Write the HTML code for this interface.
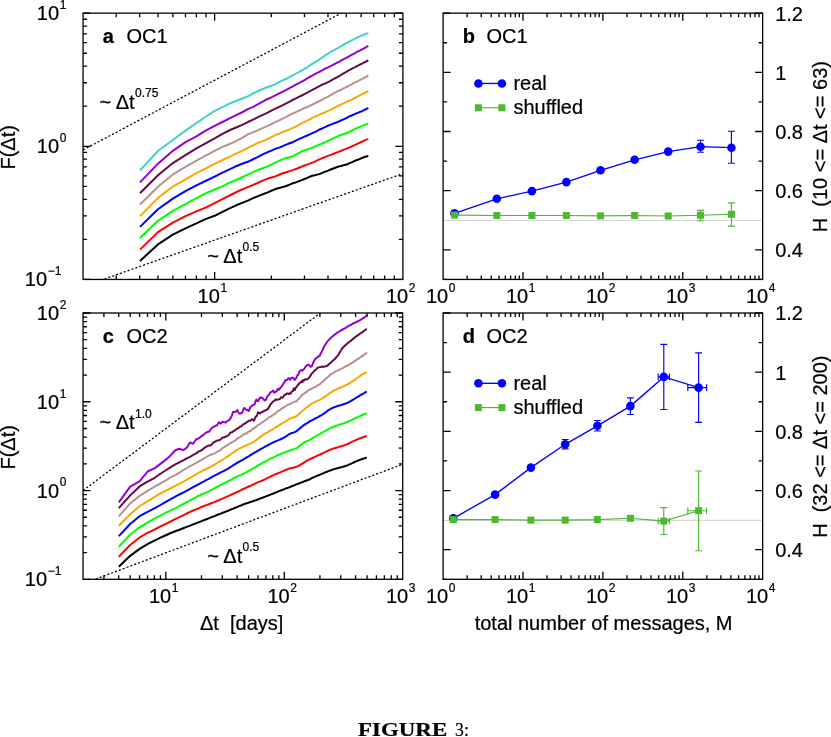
<!DOCTYPE html>
<html><head><meta charset="utf-8"><title>Figure 3</title>
<style>html,body{margin:0;padding:0;background:#fff}svg{display:block;will-change:transform}text{font-family:"Liberation Sans",sans-serif;white-space:pre;stroke:#000;stroke-width:0.22px}</style></head>
<body>
<svg width="831" height="737" viewBox="0 0 831 737" font-family='"Liberation Sans", sans-serif' fill="#000">
<rect width="831" height="737" fill="#fff"/>
<clipPath id="ca"><rect x="83.05" y="13.15" width="319.85" height="266.3"/></clipPath>
<g clip-path="url(#ca)" stroke="#000" stroke-width="1.25" stroke-dasharray="2.1 2.0" fill="none">
<path d="M83 149.94L341.5 13"/>
<path d="M104.4 279L403 173.55"/>
</g>
<polyline points="140,260.9 157.95,244.42 172.87,234.63 185.47,228.33 196.4,223.4 206.03,218.92 214.65,215.77 222.45,211.81 229.56,208.3 236.11,205.3 242.17,202.88 247.82,200.59 253.1,198.13 258.06,196.14 262.73,194.25 267.15,192.58 271.35,190.75 275.34,189.08 279.15,187.94 282.78,187.03 286.26,185.96 289.6,184.56 292.81,183.3 295.9,182.38 298.87,181.19 301.74,180.15 304.52,178.99 307.2,177.82 309.8,176.7 312.31,175.77 314.75,175.28 317.13,174.62 319.43,174.12 321.67,173.17 323.85,172.15 325.98,171.41 328.05,170.7 330.07,169.74 332.04,168.96 333.96,168.21 335.84,167.51 337.68,166.87 339.48,166.27 341.24,165.98 342.96,165.37 344.65,164.93 346.3,164.57 347.92,163.99 349.51,163.18 351.07,162.56 352.6,161.94 354.1,161.23 355.57,160.49 357.02,160.08 358.44,159.52 359.84,158.93 361.21,158.28 362.57,157.79 363.9,157.23 365.21,156.74 366.49,156.45 368.3,156.1" fill="none" stroke="#000000" stroke-width="2.0" stroke-linejoin="round" stroke-linecap="butt"/>
<polyline points="140,249.6 157.95,232.11 172.87,222.61 185.47,216.2 196.4,211.39 206.03,207.41 214.65,203.17 222.45,199.08 229.56,195.49 236.11,192.24 242.17,189.42 247.82,187.08 253.1,184.89 258.06,182.77 262.73,180.6 267.15,178.82 271.35,177.53 275.34,176.35 279.15,174.75 282.78,173.26 286.26,172.25 289.6,171.15 292.81,170.14 295.9,169.06 298.87,167.73 301.74,166.59 304.52,165.54 307.2,164.58 309.8,163.67 312.31,162.69 314.75,161.56 317.13,160.4 319.43,159.35 321.67,158.32 323.85,157.56 325.98,156.58 328.05,155.87 330.07,155.13 332.04,154.4 333.96,153.69 335.84,152.71 337.68,152.16 339.48,151.49 341.24,150.79 342.96,149.98 344.65,149.42 346.3,148.88 347.92,147.95 349.51,147.41 351.07,146.77 352.6,145.97 354.1,145.41 355.57,144.63 357.02,143.97 358.44,143.28 359.84,142.68 361.21,141.99 362.57,141.41 363.9,140.62 365.21,140.06 366.49,139.65 368.3,139.1" fill="none" stroke="#ff0000" stroke-width="2.0" stroke-linejoin="round" stroke-linecap="butt"/>
<polyline points="140,238 157.95,220.82 172.87,210.84 185.47,204.04 196.4,198.2 206.03,193.22 214.65,189.52 222.45,186.3 229.56,182.69 236.11,180.03 242.17,177.27 247.82,174.6 253.1,172.16 258.06,169.94 262.73,168.3 267.15,166.54 271.35,164.64 275.34,162.6 279.15,160.87 282.78,159.16 286.26,158.06 289.6,157.19 292.81,156.2 295.9,154.61 298.87,153.03 301.74,151.38 304.52,150.36 307.2,149.57 309.8,148.62 312.31,147.7 314.75,146.75 317.13,145.77 319.43,144.7 321.67,143.7 323.85,142.78 325.98,141.79 328.05,140.72 330.07,140.01 332.04,138.96 333.96,138.07 335.84,137.02 337.68,136.31 339.48,135.51 341.24,134.96 342.96,134.28 344.65,133.81 346.3,133.24 347.92,132.54 349.51,131.78 351.07,130.96 352.6,130.25 354.1,129.38 355.57,128.59 357.02,128.01 358.44,127.45 359.84,126.9 361.21,126.29 362.57,125.52 363.9,125.11 365.21,124.64 366.49,124.03 368.3,123.6" fill="none" stroke="#00ff00" stroke-width="2.0" stroke-linejoin="round" stroke-linecap="butt"/>
<polyline points="140,226.9 157.95,209.21 172.87,198.59 185.47,191.04 196.4,185.29 206.03,180.76 214.65,176.64 222.45,172.63 229.56,169.35 236.11,166.21 242.17,163.77 247.82,161.81 253.1,159.24 258.06,156.91 262.73,154.42 267.15,152.31 271.35,150.58 275.34,148.86 279.15,147.58 282.78,146.1 286.26,144.62 289.6,143.29 292.81,142.24 295.9,140.55 298.87,139.14 301.74,137.86 304.52,136.69 307.2,135.52 309.8,134.33 312.31,133.14 314.75,132.05 317.13,130.82 319.43,129.55 321.67,128.71 323.85,127.69 325.98,126.64 328.05,125.7 330.07,124.9 332.04,124.09 333.96,123.32 335.84,122.74 337.68,121.91 339.48,121.24 341.24,120.29 342.96,119.59 344.65,118.8 346.3,118.18 347.92,117.21 349.51,116.44 351.07,115.76 352.6,115 354.1,114.34 355.57,113.72 357.02,113.13 358.44,112.61 359.84,111.86 361.21,111.54 362.57,110.94 363.9,110.23 365.21,109.51 366.49,108.99 368.3,107.9" fill="none" stroke="#0000ff" stroke-width="2.0" stroke-linejoin="round" stroke-linecap="butt"/>
<polyline points="140,216.1 157.95,197.85 172.87,186.51 185.47,179.27 196.4,173.1 206.03,168.39 214.65,163.86 222.45,160.01 229.56,156.81 236.11,153.67 242.17,150.79 247.82,147.84 253.1,145.28 258.06,142.79 262.73,141.12 267.15,139.4 271.35,137.16 275.34,135.02 279.15,133.58 282.78,131.98 286.26,130.73 289.6,129.37 292.81,127.94 295.9,126.58 298.87,124.87 301.74,123.45 304.52,121.95 307.2,120.68 309.8,119.37 312.31,117.96 314.75,116.72 317.13,115.67 319.43,114.62 321.67,113.59 323.85,112.72 325.98,111.96 328.05,110.9 330.07,110.12 332.04,109.03 333.96,108.15 335.84,107.08 337.68,106.09 339.48,105.28 341.24,104.37 342.96,103.67 344.65,102.82 346.3,102.06 347.92,101.26 349.51,100.62 351.07,99.8 352.6,99.11 354.1,98.38 355.57,97.57 357.02,96.93 358.44,96.16 359.84,95.41 361.21,94.63 362.57,93.91 363.9,93.29 365.21,92.7 366.49,91.82 368.3,91" fill="none" stroke="#ffa500" stroke-width="2.0" stroke-linejoin="round" stroke-linecap="butt"/>
<polyline points="140,204.5 157.95,186.69 172.87,174.47 185.47,166.89 196.4,160.63 206.03,155.4 214.65,150.9 222.45,146.93 229.56,143.96 236.11,141.14 242.17,137.84 247.82,134.39 253.1,132.17 258.06,130.16 262.73,128.07 267.15,126.09 271.35,124.07 275.34,122.2 279.15,120.32 282.78,118.67 286.26,116.95 289.6,115.14 292.81,113.43 295.9,112.15 298.87,110.78 301.74,109.32 304.52,108.01 307.2,106.96 309.8,105.91 312.31,104.48 314.75,103.47 317.13,102.25 319.43,101.09 321.67,100.01 323.85,98.71 325.98,97.68 328.05,96.64 330.07,95.46 332.04,94.32 333.96,93.21 335.84,92.22 337.68,91.18 339.48,90.55 341.24,89.55 342.96,88.66 344.65,87.82 346.3,87.03 347.92,86.25 349.51,85.33 351.07,84.72 352.6,83.72 354.1,82.92 355.57,82.21 357.02,81.55 358.44,80.83 359.84,79.99 361.21,79.36 362.57,78.67 363.9,78.02 365.21,77.33 366.49,76.54 368.3,75.5" fill="none" stroke="#bc8f8f" stroke-width="2.0" stroke-linejoin="round" stroke-linecap="butt"/>
<polyline points="140,193.2 157.95,175.33 172.87,163.09 185.47,155.19 196.4,148.4 206.03,143.13 214.65,138.41 222.45,133.86 229.56,130.24 236.11,127.5 242.17,124.87 247.82,122.02 253.1,119.59 258.06,117.07 262.73,114.85 267.15,112.8 271.35,110.71 275.34,108.62 279.15,106.82 282.78,105.2 286.26,103.37 289.6,101.7 292.81,99.85 295.9,98.41 298.87,96.94 301.74,95.51 304.52,94.16 307.2,92.74 309.8,91.25 312.31,89.85 314.75,88.65 317.13,87.29 319.43,86.15 321.67,84.96 323.85,83.93 325.98,83.06 328.05,82.07 330.07,81.18 332.04,79.97 333.96,78.97 335.84,77.88 337.68,76.85 339.48,75.77 341.24,74.85 342.96,73.66 344.65,72.79 346.3,71.78 347.92,70.75 349.51,70.08 351.07,69.17 352.6,68.45 354.1,67.58 355.57,66.91 357.02,66.03 358.44,65.44 359.84,64.66 361.21,64 362.57,63.38 363.9,62.68 365.21,61.99 366.49,61.38 368.3,60.2" fill="none" stroke="#670748" stroke-width="2.0" stroke-linejoin="round" stroke-linecap="butt"/>
<polyline points="140,182.4 157.95,163.64 172.87,150.85 185.47,142.1 196.4,136.28 206.03,130.41 214.65,125.93 222.45,122.01 229.56,118.42 236.11,115.14 242.17,112.25 247.82,109.21 253.1,106.82 258.06,104.23 262.73,101.65 267.15,99.24 271.35,97.34 275.34,95.39 279.15,93.48 282.78,91.65 286.26,89.83 289.6,88.07 292.81,86.29 295.9,84.7 298.87,83.17 301.74,81.59 304.52,80.11 307.2,78.43 309.8,76.97 312.31,75.6 314.75,74.23 317.13,72.95 319.43,71.89 321.67,70.67 323.85,69.47 325.98,68.18 328.05,67.33 330.07,66.35 332.04,65.4 333.96,64.3 335.84,63.36 337.68,62.45 339.48,61.59 341.24,60.48 342.96,59.62 344.65,58.64 346.3,57.83 347.92,56.8 349.51,56.07 351.07,55.15 352.6,54.32 354.1,53.55 355.57,52.78 357.02,51.8 358.44,51.27 359.84,50.51 361.21,49.73 362.57,49.15 363.9,48.37 365.21,47.76 366.49,46.88 368.3,45.8" fill="none" stroke="#9400d3" stroke-width="2.0" stroke-linejoin="round" stroke-linecap="butt"/>
<polyline points="140,170.4 157.95,151.05 172.87,139.97 185.47,130.66 196.4,123.08 206.03,116.5 214.65,110.91 222.45,107.17 229.56,103.64 236.11,100.96 242.17,98.53 247.82,96.42 253.1,93.49 258.06,90.98 262.73,88.98 267.15,87.21 271.35,85.8 275.34,84.1 279.15,82.2 282.78,80.38 286.26,78.77 289.6,76.88 292.81,75.27 295.9,73.66 298.87,72.09 301.74,70.44 304.52,68.93 307.2,67.3 309.8,65.44 312.31,63.78 314.75,62.3 317.13,60.98 319.43,59.55 321.67,57.99 323.85,56.41 325.98,54.79 328.05,53.54 330.07,52.24 332.04,51.1 333.96,50.05 335.84,49.07 337.68,48.03 339.48,46.94 341.24,46.12 342.96,45.07 344.65,44.15 346.3,43.21 347.92,42.45 349.51,41.48 351.07,40.67 352.6,39.91 354.1,39.08 355.57,38.37 357.02,37.63 358.44,36.93 359.84,36.31 361.21,35.7 362.57,35.21 363.9,34.6 365.21,34.04 366.49,33.68 368.3,33" fill="none" stroke="#40d2ca" stroke-width="2.0" stroke-linejoin="round" stroke-linecap="butt"/>
<rect x="83.05" y="13.15" width="319.85" height="266.3" fill="none" stroke="#000" stroke-width="1.3"/>
<path d="M116.2 279.45v-4.0M116.2 13.15v4.0M139.72 279.45v-4.0M139.72 13.15v4.0M157.97 279.45v-4.0M157.97 13.15v4.0M172.87 279.45v-4.0M172.87 13.15v4.0M185.48 279.45v-4.0M185.48 13.15v4.0M196.39 279.45v-4.0M196.39 13.15v4.0M206.02 279.45v-4.0M206.02 13.15v4.0M214.64 279.45v-7.5M214.64 13.15v7.5M271.31 279.45v-4.0M271.31 13.15v4.0M304.46 279.45v-4.0M304.46 13.15v4.0M327.98 279.45v-4.0M327.98 13.15v4.0M346.23 279.45v-4.0M346.23 13.15v4.0M361.13 279.45v-4.0M361.13 13.15v4.0M373.74 279.45v-4.0M373.74 13.15v4.0M384.66 279.45v-4.0M384.66 13.15v4.0M394.29 279.45v-4.0M394.29 13.15v4.0" stroke="#000" stroke-width="1.3" fill="none"/>
<path d="M83.05 279.45h7.5M402.9 279.45h-7.5M83.05 239.37h4.0M402.9 239.37h-4.0M83.05 215.92h4.0M402.9 215.92h-4.0M83.05 199.29h4.0M402.9 199.29h-4.0M83.05 186.38h4.0M402.9 186.38h-4.0M83.05 175.84h4.0M402.9 175.84h-4.0M83.05 166.93h4.0M402.9 166.93h-4.0M83.05 159.2h4.0M402.9 159.2h-4.0M83.05 152.39h4.0M402.9 152.39h-4.0M83.05 146.3h7.5M402.9 146.3h-7.5M83.05 106.22h4.0M402.9 106.22h-4.0M83.05 82.77h4.0M402.9 82.77h-4.0M83.05 66.14h4.0M402.9 66.14h-4.0M83.05 53.23h4.0M402.9 53.23h-4.0M83.05 42.69h4.0M402.9 42.69h-4.0M83.05 33.78h4.0M402.9 33.78h-4.0M83.05 26.05h4.0M402.9 26.05h-4.0M83.05 19.24h4.0M402.9 19.24h-4.0M83.05 13.15h7.5M402.9 13.15h-7.5" stroke="#000" stroke-width="1.3" fill="none"/>
<clipPath id="cc"><rect x="83.05" y="313.0" width="319.65" height="266.3"/></clipPath>
<g clip-path="url(#cc)" stroke="#000" stroke-width="1.25" stroke-dasharray="2.1 2.0" fill="none">
<path d="M83 490.55L320.4 313"/>
<path d="M95.8 579L403 464.13"/>
</g>
<polyline points="118.8,566.8 130.18,555.84 139.57,548.89 147.51,544.2 154.38,540.62 160.45,537.72 165.87,535.26 170.78,533 175.26,531.23 179.38,529.73 183.2,528.24 186.75,526.86 190.07,525.64 193.2,524.34 196.14,523.21 198.92,522.18 201.56,521.18 204.08,520.05 206.47,519.23 208.76,518.4 210.95,517.43 213.05,516.63 215.07,515.88 217.02,515 218.89,514.31 220.7,513.58 222.44,512.82 224.13,512.26 225.76,511.6 227.35,511.02 228.89,510.44 230.38,509.77 231.83,509.13 233.24,508.6 234.61,508.03 235.95,507.53 237.25,506.88 238.53,506.37 239.77,505.83 240.98,505.46 242.16,504.95 243.32,504.47 244.45,504.02 245.56,503.64 246.64,503.26 247.7,502.94 248.75,502.59 249.76,502.34 250.76,501.96 251.75,501.59 252.71,501.28 253.65,501.05 254.58,500.68 255.49,500.34 256.39,500.03 257.27,499.74 258.13,499.29 259.82,498.68 261.46,498.01 263.04,497.51 264.58,496.89 266.07,496.31 267.52,495.75 268.93,495.27 270.31,494.7 271.64,494.17 272.95,493.73 274.22,493.11 275.46,492.6 276.67,492.28 277.85,491.67 279.01,491.19 280.14,490.72 281.25,490.31 282.33,489.93 283.4,489.52 284.44,489.11 285.46,488.69 286.46,488.25 287.44,487.95 288.4,487.64 289.34,487.26 290.27,486.85 291.18,486.53 292.08,486.13 292.96,485.8 293.82,485.4 294.68,485.1 295.51,484.77 296.34,484.42 297.15,484.13 297.95,483.85 298.73,483.5 299.51,483.14 300.27,482.85 301.02,482.58 301.76,482.29 302.49,482.07 303.21,481.83 303.92,481.55 304.62,481.3 305.31,481.04 306.67,480.52 307.99,479.99 309.28,479.49 310.53,478.87 311.76,478.21 312.96,477.64 314.13,477.11 315.27,476.59 316.39,476.11 317.49,475.63 318.56,475.2 319.61,474.77 320.64,474.35 321.65,473.92 322.64,473.5 323.61,473.07 324.56,472.62 325.5,472.32 326.42,472.02 327.32,471.54 328.21,471.18 329.08,470.91 329.94,470.54 330.79,470.2 331.62,469.99 332.43,469.67 333.24,469.41 334.03,469.1 334.81,468.91 335.58,468.7 336.34,468.51 337.08,468.33 337.82,468.14 338.54,467.91 339.26,467.75 339.97,467.49 340.66,467.39 341.35,467.21 342.03,466.99 342.69,466.79 343.35,466.64 344.01,466.4 344.65,466.26 345.29,466.04 345.91,465.77 346.53,465.59 347.15,465.41 347.75,465.18 348.35,464.93 348.94,464.63 349.53,464.36 350.11,464.09 350.68,463.87 351.24,463.68 351.8,463.36 352.36,463.1 352.91,462.83 353.45,462.43 353.98,462.24 354.52,461.98 355.04,461.82 355.56,461.61 356.08,461.29 356.59,461.12 357.09,460.94 357.59,460.7 358.09,460.5 358.58,460.31 359.06,460.2 359.54,459.94 360.02,459.85 360.49,459.63 360.96,459.49 361.42,459.36 361.88,459.1 362.34,458.94 362.79,458.84 363.24,458.63 363.68,458.5 364.12,458.38 364.56,458.26 364.99,458.06 365.42,457.97 365.85,457.88 366.27,457.79 366.8,457.8" fill="none" stroke="#000000" stroke-width="2.0" stroke-linejoin="round" stroke-linecap="butt"/>
<polyline points="118.8,556.7 130.18,545.03 139.57,537.51 147.51,532.79 154.38,529.63 160.45,526.45 165.87,523.79 170.78,521.37 175.26,519.08 179.38,517.18 183.2,515.3 186.75,513.48 190.07,511.89 193.2,510.51 196.14,509.33 198.92,508.2 201.56,507 204.08,506.03 206.47,505.15 208.76,504.29 210.95,503.24 213.05,502.61 215.07,501.7 217.02,500.98 218.89,500.09 220.7,499.31 222.44,498.62 224.13,497.96 225.76,497.2 227.35,496.37 228.89,495.84 230.38,495.03 231.83,494.4 233.24,493.75 234.61,493.09 235.95,492.51 237.25,491.89 238.53,491.29 239.77,490.72 240.98,490.12 242.16,489.49 243.32,489.01 244.45,488.53 245.56,488 246.64,487.45 247.7,486.98 248.75,486.5 249.76,486.04 250.76,485.58 251.75,485 252.71,484.54 253.65,484.19 254.58,483.8 255.49,483.43 256.39,482.85 257.27,482.61 258.13,482.09 259.82,481.62 261.46,480.92 263.04,480.25 264.58,479.46 266.07,478.79 267.52,477.97 268.93,477.34 270.31,476.64 271.64,475.98 272.95,475.39 274.22,474.82 275.46,474.21 276.67,473.79 277.85,473.29 279.01,472.76 280.14,472.35 281.25,471.89 282.33,471.31 283.4,470.93 284.44,470.48 285.46,470.04 286.46,469.71 287.44,469.27 288.4,468.92 289.34,468.61 290.27,468.31 291.18,468.09 292.08,467.99 292.96,467.66 293.82,467.51 294.68,467.22 295.51,467.08 296.34,466.84 297.15,466.53 297.95,466.09 298.73,465.75 299.51,465.4 300.27,464.87 301.02,464.47 301.76,463.89 302.49,463.55 303.21,463.07 303.92,462.58 304.62,462.05 305.31,461.65 306.67,460.82 307.99,460.06 309.28,459.4 310.53,458.8 311.76,458.26 312.96,457.79 314.13,457.08 315.27,456.62 316.39,456.13 317.49,455.68 318.56,455.13 319.61,454.77 320.64,454.27 321.65,453.77 322.64,453.27 323.61,452.84 324.56,452.36 325.5,451.89 326.42,451.39 327.32,451.05 328.21,450.52 329.08,450.29 329.94,449.68 330.79,449.48 331.62,449.13 332.43,448.95 333.24,448.55 334.03,448.47 334.81,448.04 335.58,448 336.34,447.68 337.08,447.43 337.82,447.24 338.54,447.13 339.26,446.85 339.97,446.48 340.66,446.47 341.35,446.21 342.03,445.91 342.69,445.85 343.35,445.54 344.01,445.4 344.65,445.16 345.29,444.87 345.91,444.7 346.53,444.36 347.15,444.17 347.75,443.87 348.35,443.63 348.94,443.46 349.53,443.08 350.11,442.73 350.68,442.49 351.24,442.16 351.8,441.91 352.36,441.63 352.91,441.34 353.45,441.09 353.98,440.8 354.52,440.61 355.04,440.41 355.56,440.1 356.08,439.91 356.59,439.71 357.09,439.58 357.59,439.37 358.09,439.07 358.58,438.93 359.06,438.65 359.54,438.5 360.02,438.37 360.49,438.22 360.96,438.07 361.42,437.82 361.88,437.6 362.34,437.53 362.79,437.34 363.24,437.22 363.68,437.05 364.12,436.93 364.56,436.78 364.99,436.64 365.42,436.43 365.85,436.37 366.27,436.15 366.8,436.1" fill="none" stroke="#ff0000" stroke-width="2.0" stroke-linejoin="round" stroke-linecap="butt"/>
<polyline points="118.8,546.7 130.18,534.73 139.57,527.29 147.51,522.54 154.38,518.62 160.45,515.52 165.87,512.62 170.78,510.33 175.26,508.3 179.38,506.11 183.2,504.15 186.75,502.23 190.07,500.47 193.2,498.68 196.14,497.24 198.92,495.73 201.56,494.53 204.08,493.42 206.47,492.36 208.76,491.4 210.95,490.13 213.05,489.03 215.07,487.96 217.02,486.92 218.89,486.01 220.7,484.93 222.44,484.1 224.13,483.17 225.76,482.31 227.35,481.65 228.89,480.77 230.38,480.08 231.83,479.3 233.24,478.45 234.61,477.69 235.95,477.22 237.25,476.49 238.53,475.86 239.77,475.4 240.98,474.82 242.16,474.24 243.32,473.73 244.45,473.24 245.56,472.66 246.64,472.1 247.7,471.44 248.75,470.86 249.76,470.34 250.76,469.75 251.75,469.24 252.71,468.61 253.65,468.08 254.58,467.48 255.49,467.09 256.39,466.41 257.27,465.98 258.13,465.42 259.82,464.5 261.46,463.57 263.04,462.53 264.58,461.79 266.07,460.91 267.52,460.32 268.93,459.49 270.31,458.72 271.64,458.1 272.95,457.57 274.22,456.96 275.46,456.36 276.67,455.69 277.85,455.19 279.01,454.77 280.14,454.16 281.25,453.71 282.33,453.23 283.4,452.79 284.44,452.51 285.46,452.09 286.46,451.72 287.44,451.38 288.4,451.07 289.34,450.79 290.27,450.38 291.18,450.05 292.08,449.75 292.96,449.61 293.82,449.26 294.68,448.93 295.51,448.66 296.34,448.27 297.15,447.82 297.95,447.25 298.73,446.52 299.51,445.94 300.27,445.38 301.02,444.74 301.76,444.21 302.49,443.68 303.21,443.14 303.92,442.57 304.62,442.16 305.31,441.94 306.67,441.21 307.99,440.74 309.28,440.04 310.53,439.3 311.76,438.57 312.96,437.95 314.13,437.22 315.27,436.59 316.39,435.96 317.49,435.28 318.56,434.7 319.61,434.1 320.64,433.46 321.65,432.95 322.64,432.37 323.61,431.76 324.56,431.29 325.5,430.74 326.42,430.2 327.32,429.61 328.21,429.28 329.08,428.81 329.94,428.37 330.79,427.94 331.62,427.48 332.43,427.2 333.24,426.8 334.03,426.65 334.81,426.19 335.58,425.98 336.34,425.59 337.08,425.35 337.82,425.14 338.54,424.96 339.26,424.72 339.97,424.47 340.66,424.12 341.35,424.06 342.03,423.72 342.69,423.64 343.35,423.43 344.01,423.15 344.65,422.93 345.29,422.58 345.91,422.56 346.53,422.19 347.15,422 347.75,421.66 348.35,421.45 348.94,421.14 349.53,420.94 350.11,420.7 350.68,420.46 351.24,420.27 351.8,419.97 352.36,419.71 352.91,419.44 353.45,419.27 353.98,418.86 354.52,418.69 355.04,418.25 355.56,418.06 356.08,417.88 356.59,417.61 357.09,417.54 357.59,417.28 358.09,416.83 358.58,416.62 359.06,416.45 359.54,416.33 360.02,416.08 360.49,415.82 360.96,415.51 361.42,415.33 361.88,415.03 362.34,414.91 362.79,414.84 363.24,414.69 363.68,414.4 364.12,414.31 364.56,414.22 364.99,413.97 365.42,413.78 365.85,413.67 366.27,413.51 366.8,413.2" fill="none" stroke="#00ff00" stroke-width="2.0" stroke-linejoin="round" stroke-linecap="butt"/>
<polyline points="118.8,536.1 130.18,524.05 139.57,516.2 147.51,511.79 154.38,508.44 160.45,505 165.87,501.83 170.78,499.03 175.26,496.71 179.38,494.49 183.2,492.54 186.75,490.72 190.07,488.96 193.2,487.21 196.14,485.53 198.92,484.08 201.56,482.62 204.08,481.34 206.47,479.95 208.76,478.77 210.95,477.6 213.05,476.44 215.07,475.43 217.02,474.4 218.89,473.34 220.7,472.47 222.44,471.58 224.13,470.88 225.76,469.96 227.35,469.15 228.89,468.09 230.38,467.18 231.83,466.21 233.24,465.21 234.61,464.46 235.95,463.63 237.25,462.74 238.53,462.13 239.77,461.4 240.98,460.68 242.16,460.05 243.32,459.3 244.45,458.77 245.56,458.17 246.64,457.39 247.7,456.82 248.75,456.28 249.76,455.59 250.76,454.95 251.75,454.33 252.71,453.8 253.65,453.21 254.58,452.71 255.49,452.07 256.39,451.7 257.27,451.11 258.13,450.67 259.82,449.64 261.46,448.69 263.04,447.84 264.58,446.94 266.07,446.14 267.52,445.39 268.93,444.66 270.31,443.88 271.64,443.15 272.95,442.51 274.22,441.96 275.46,441.43 276.67,440.84 277.85,440.38 279.01,439.88 280.14,439.49 281.25,439.05 282.33,438.33 283.4,437.98 284.44,437.38 285.46,436.7 286.46,436.16 287.44,435.41 288.4,434.73 289.34,434.02 290.27,433.73 291.18,433.25 292.08,432.92 292.96,432.74 293.82,432.41 294.68,432.1 295.51,431.75 296.34,431.1 297.15,430.73 297.95,429.97 298.73,429.31 299.51,428.69 300.27,427.94 301.02,427.36 301.76,426.78 302.49,426.18 303.21,425.71 303.92,425.1 304.62,424.64 305.31,424.17 306.67,423.35 307.99,422.7 309.28,421.71 310.53,420.96 311.76,420.29 312.96,419.72 314.13,419.11 315.27,418.44 316.39,418 317.49,417.37 318.56,416.83 319.61,416.09 320.64,415.52 321.65,415.04 322.64,414.3 323.61,413.77 324.56,413.08 325.5,412.37 326.42,411.7 327.32,411.03 328.21,410.4 329.08,409.76 329.94,409.24 330.79,408.91 331.62,408.39 332.43,407.98 333.24,407.62 334.03,407.23 334.81,406.98 335.58,406.69 336.34,406.5 337.08,406.16 337.82,405.85 338.54,405.73 339.26,405.58 339.97,405.47 340.66,405.18 341.35,404.87 342.03,404.7 342.69,404.45 343.35,404.28 344.01,404.03 344.65,403.77 345.29,403.65 345.91,403.41 346.53,403.14 347.15,402.92 347.75,402.75 348.35,402.37 348.94,402.05 349.53,401.82 350.11,401.37 350.68,401.18 351.24,400.78 351.8,400.45 352.36,400.18 352.91,399.93 353.45,399.45 353.98,399.19 354.52,398.82 355.04,398.39 355.56,398.19 356.08,397.78 356.59,397.44 357.09,397.17 357.59,396.88 358.09,396.65 358.58,396.29 359.06,396.12 359.54,395.76 360.02,395.43 360.49,395.14 360.96,394.93 361.42,394.53 361.88,394.25 362.34,394.05 362.79,393.87 363.24,393.59 363.68,393.32 364.12,393.05 364.56,392.69 364.99,392.54 365.42,392.22 365.85,392.11 366.27,391.83 366.8,391.7" fill="none" stroke="#0000ff" stroke-width="2.0" stroke-linejoin="round" stroke-linecap="butt"/>
<polyline points="118.8,525.7 130.18,514.18 139.57,506.26 147.51,501.47 154.38,497.19 160.45,493.44 165.87,490.59 170.78,488.25 175.26,485.91 179.38,483.85 183.2,481.76 186.75,479.65 190.07,477.9 193.2,476 196.14,474.3 198.92,472.66 201.56,471.33 204.08,469.98 206.47,468.88 208.76,467.74 210.95,466.89 213.05,465.48 215.07,464.29 217.02,463.06 218.89,461.96 220.7,460.88 222.44,459.88 224.13,458.78 225.76,457.75 227.35,456.63 228.89,455.58 230.38,454.63 231.83,453.53 233.24,452.57 234.61,451.46 235.95,450.76 237.25,449.96 238.53,449.29 239.77,448.28 240.98,447.82 242.16,447.18 243.32,446.61 244.45,446.01 245.56,445.59 246.64,445.18 247.7,444.69 248.75,444.23 249.76,443.8 250.76,443.33 251.75,442.9 252.71,442.36 253.65,441.75 254.58,441.39 255.49,440.53 256.39,440 257.27,439.27 258.13,438.69 259.82,437.36 261.46,436.18 263.04,434.95 264.58,433.9 266.07,433.08 267.52,432.29 268.93,431.41 270.31,430.62 271.64,429.8 272.95,429.04 274.22,428.26 275.46,427.39 276.67,426.75 277.85,425.96 279.01,425.28 280.14,424.52 281.25,423.87 282.33,423.32 283.4,422.74 284.44,422.14 285.46,421.42 286.46,420.78 287.44,420.16 288.4,419.37 289.34,419.02 290.27,418.5 291.18,418.11 292.08,417.76 292.96,417.59 293.82,417.23 294.68,417.08 295.51,416.59 296.34,415.98 297.15,415.59 297.95,414.86 298.73,414.19 299.51,413.51 300.27,412.81 301.02,412.15 301.76,411.52 302.49,410.88 303.21,410.21 303.92,409.57 304.62,409.03 305.31,408.55 306.67,407.49 307.99,406.56 309.28,405.41 310.53,404.69 311.76,403.92 312.96,403.21 314.13,402.59 315.27,401.94 316.39,401.34 317.49,400.77 318.56,400.34 319.61,399.87 320.64,399.4 321.65,398.7 322.64,398.11 323.61,397.59 324.56,396.94 325.5,396.48 326.42,395.67 327.32,395.05 328.21,394.28 329.08,393.71 329.94,393.14 330.79,392.66 331.62,391.96 332.43,391.52 333.24,390.85 334.03,390.44 334.81,390.02 335.58,389.69 336.34,389.41 337.08,389.1 337.82,388.6 338.54,388.44 339.26,388 339.97,387.91 340.66,387.5 341.35,387.19 342.03,386.89 342.69,386.63 343.35,386.36 344.01,386.03 344.65,385.82 345.29,385.48 345.91,385.2 346.53,384.82 347.15,384.55 347.75,384.11 348.35,384.1 348.94,383.44 349.53,383.12 350.11,382.89 350.68,382.56 351.24,382.07 351.8,381.66 352.36,381.33 352.91,381.01 353.45,380.65 353.98,380.33 354.52,380.05 355.04,379.69 355.56,379.19 356.08,378.9 356.59,378.55 357.09,378.22 357.59,377.72 358.09,377.31 358.58,377.05 359.06,376.74 359.54,376.23 360.02,376.06 360.49,375.7 360.96,375.22 361.42,374.79 361.88,374.55 362.34,374.31 362.79,374.13 363.24,373.71 363.68,373.78 364.12,373.53 364.56,373.07 364.99,372.75 365.42,372.65 365.85,372.47 366.27,372.32 366.8,372" fill="none" stroke="#ffa500" stroke-width="2.0" stroke-linejoin="round" stroke-linecap="butt"/>
<polyline points="118.8,516.3 130.18,503.44 139.57,495.85 147.51,490.89 154.38,486.89 160.45,483.35 165.87,480.29 170.78,477.21 175.26,475.04 179.38,472.58 183.2,470.18 186.75,468.26 190.07,466.17 193.2,464.57 196.14,462.81 198.92,461.39 201.56,459.96 204.08,458.4 206.47,456.99 208.76,455.68 210.95,454.77 213.05,453.88 215.07,453.34 217.02,451.79 218.89,450.88 220.7,449.98 222.44,448.02 224.13,447.43 225.76,446.12 227.35,445.08 228.89,444.05 230.38,442.94 231.83,442.51 233.24,441.54 234.61,441.03 235.95,439.9 237.25,438.31 238.53,438.2 239.77,437.2 240.98,436.42 242.16,435.54 243.32,434.41 244.45,434.21 245.56,433.33 246.64,433.75 247.7,432.27 248.75,431.48 249.76,431.02 250.76,430.99 251.75,429.75 252.71,428.42 253.65,428.9 254.58,427.85 255.49,426.99 256.39,426.72 257.27,425.62 258.13,424.69 259.82,424.26 261.46,422.67 263.04,421.97 264.58,420.64 266.07,419.89 267.52,418.61 268.93,417.09 270.31,416.99 271.64,415.78 272.95,415.27 274.22,414.07 275.46,413.66 276.67,412.28 277.85,410.89 279.01,410.49 280.14,409.99 281.25,408.94 282.33,407.97 283.4,407.94 284.44,406.73 285.46,406.51 286.46,405.77 287.44,404.76 288.4,404.54 289.34,404.29 290.27,403.91 291.18,403.15 292.08,402.61 292.96,402.39 293.82,402.21 294.68,401.6 295.51,401.34 296.34,401.48 297.15,400.45 297.95,399.42 298.73,398.92 299.51,398.42 300.27,397.23 301.02,396.2 301.76,395.22 302.49,394.4 303.21,394.18 303.92,393.79 304.62,392.82 305.31,392.52 306.67,392 307.99,390.45 309.28,389.77 310.53,389.23 311.76,388.78 312.96,388.01 314.13,387.46 315.27,386.87 316.39,386.36 317.49,385.31 318.56,385.05 319.61,384.37 320.64,383.52 321.65,382.49 322.64,381.78 323.61,380.59 324.56,380.03 325.5,378.95 326.42,378.14 327.32,377.62 328.21,376.58 329.08,376 329.94,375.01 330.79,374.38 331.62,373.81 332.43,373.29 333.24,372.87 334.03,372.24 334.81,371.92 335.58,371.39 336.34,371.07 337.08,370.78 337.82,370.42 338.54,370.26 339.26,369.74 339.97,369.53 340.66,369.04 341.35,368.61 342.03,368.51 342.69,368.14 343.35,367.77 344.01,367.34 344.65,366.85 345.29,366.7 345.91,366.22 346.53,366.04 347.15,365.74 347.75,365.58 348.35,365.07 348.94,364.73 349.53,364.37 350.11,364.07 350.68,363.7 351.24,363.31 351.8,362.91 352.36,362.58 352.91,362.39 353.45,361.93 353.98,361.69 354.52,361.2 355.04,360.88 355.56,360.57 356.08,360.34 356.59,359.79 357.09,359.44 357.59,359.02 358.09,358.82 358.58,358.72 359.06,358.32 359.54,357.82 360.02,357.49 360.49,357.21 360.96,356.93 361.42,356.53 361.88,356.04 362.34,355.85 362.79,355.74 363.24,355.25 363.68,355.07 364.12,354.54 364.56,354.36 364.99,354.02 365.42,353.79 365.85,353.57 366.27,353.06 366.8,352.3" fill="none" stroke="#bc8f8f" stroke-width="2.0" stroke-linejoin="round" stroke-linecap="butt"/>
<polyline points="118.8,508.2 130.18,495.39 139.57,486.41 147.51,481.68 154.38,478.01 160.45,473.73 165.87,470.23 170.78,467.13 175.26,464.46 179.38,462.34 183.2,460.4 186.75,458.4 190.07,456.84 193.2,454.85 196.14,453.43 198.92,451.42 201.56,450.27 204.08,448.18 206.47,446.65 208.76,445.39 210.95,445.48 213.05,442.69 215.07,441.65 217.02,440.57 218.89,440.38 220.7,439.4 222.44,437.57 224.13,437.47 225.76,436.52 227.35,436.01 228.89,434.71 230.38,432.64 231.83,432.35 233.24,431.21 234.61,430.64 235.95,429.56 237.25,428.52 238.53,428.2 239.77,426.84 240.98,426.56 242.16,425.36 243.32,424.19 244.45,423.86 245.56,423 246.64,422.44 247.7,421.66 248.75,420.64 249.76,420.85 250.76,420.48 251.75,419.22 252.71,419.4 253.65,420.77 254.58,419.34 255.49,416.89 256.39,416.49 257.27,414.59 258.13,412.21 259.82,413.39 261.46,412.24 263.04,411.69 264.58,410.57 266.07,410.25 267.52,409.33 268.93,407.37 270.31,404.67 271.64,403.18 272.95,401.63 274.22,400.91 275.46,399.5 276.67,399.93 277.85,399.5 279.01,399.23 280.14,398.75 281.25,397.01 282.33,397.69 283.4,396.76 284.44,394.87 285.46,394.8 286.46,393.64 287.44,393.42 288.4,393.97 289.34,393.23 290.27,393.88 291.18,392.56 292.08,391.17 292.96,391.02 293.82,388.34 294.68,390.01 295.51,388.01 296.34,387.18 297.15,386.03 297.95,384.72 298.73,384.39 299.51,383.11 300.27,382.57 301.02,382.38 301.76,380.99 302.49,382.01 303.21,380.09 303.92,380.68 304.62,379.59 305.31,379.21 306.67,379.53 307.99,378.68 309.28,377.53 310.53,375.67 311.76,373.54 312.96,372.56 314.13,370.93 315.27,370.1 316.39,369.24 317.49,367.73 318.56,367.45 319.61,367.12 320.64,367.01 321.65,366.53 322.64,366.9 323.61,366.83 324.56,366.56 325.5,366.17 326.42,366.31 327.32,365.62 328.21,364.9 329.08,363.99 329.94,363.23 330.79,362.65 331.62,361.88 332.43,361.14 333.24,360.2 334.03,359.79 334.81,358.91 335.58,358.16 336.34,357.16 337.08,356.37 337.82,355.38 338.54,354.54 339.26,353.19 339.97,352.18 340.66,350.72 341.35,349.75 342.03,348.74 342.69,347.92 343.35,347.08 344.01,346.61 344.65,345.86 345.29,345.23 345.91,345 346.53,344.16 347.15,343.77 347.75,342.99 348.35,342.71 348.94,342.34 349.53,341.68 350.11,341.25 350.68,340.87 351.24,340.53 351.8,339.9 352.36,339.51 352.91,339.11 353.45,338.5 353.98,338.28 354.52,337.66 355.04,337.19 355.56,336.55 356.08,336.52 356.59,336.38 357.09,335.69 357.59,335.37 358.09,335.01 358.58,334.74 359.06,334.34 359.54,333.99 360.02,333.73 360.49,333.21 360.96,332.9 361.42,332.71 361.88,332.5 362.34,332.26 362.79,331.71 363.24,331.34 363.68,330.9 364.12,330.75 364.56,330.54 364.99,330.23 365.42,329.87 365.85,329.52 366.27,329.03 366.8,328.8" fill="none" stroke="#670748" stroke-width="2.0" stroke-linejoin="round" stroke-linecap="butt"/>
<polyline points="118.8,502.4 130.18,486.6 139.57,481.29 147.51,471.51 154.38,468.42 160.45,463.86 165.87,459.66 170.78,455.16 175.26,450.29 179.38,448.78 183.2,450.14 186.75,447.73 190.07,442.52 193.2,443.81 196.14,439.31 198.92,438.34 201.56,436.06 204.08,434.32 206.47,432.33 208.76,431.84 210.95,429.15 213.05,427.03 215.07,426.13 217.02,425.29 218.89,422.42 220.7,423.67 222.44,421.67 224.13,422.32 225.76,422.47 227.35,420.85 228.89,420.33 230.38,418.49 231.83,415.59 233.24,411.69 234.61,412.06 235.95,411.72 237.25,410.07 238.53,412.62 239.77,413.83 240.98,412.98 242.16,412.84 243.32,409.53 244.45,407.74 245.56,409.27 246.64,410 247.7,409.81 248.75,411.03 249.76,408.74 250.76,406.63 251.75,406.36 252.71,405.13 253.65,404.76 254.58,404.38 255.49,401.29 256.39,399.61 257.27,401.1 258.13,401.2 259.82,397.79 261.46,397.45 263.04,398.53 264.58,400.57 266.07,399.64 267.52,396.15 268.93,394.81 270.31,392.41 271.64,391.9 272.95,390.58 274.22,392.6 275.46,391.64 276.67,391.41 277.85,388.84 279.01,389.87 280.14,388 281.25,387 282.33,385.61 283.4,383.33 284.44,382.23 285.46,380.11 286.46,380.2 287.44,379.66 288.4,378.12 289.34,378.68 290.27,379.71 291.18,377.99 292.08,377.61 292.96,377.83 293.82,378.68 294.68,379.93 295.51,378.72 296.34,378.05 297.15,375.5 297.95,375.3 298.73,373.65 299.51,371.35 300.27,370.82 301.02,369.98 301.76,370.38 302.49,370.66 303.21,369.5 303.92,369.2 304.62,368.11 305.31,366.87 306.67,365.5 307.99,364.55 309.28,365.17 310.53,366.8 311.76,366.26 312.96,363.27 314.13,360.86 315.27,358.98 316.39,357.86 317.49,357.43 318.56,356.19 319.61,355.99 320.64,353.79 321.65,351.86 322.64,349.85 323.61,347.51 324.56,345.8 325.5,344.32 326.42,342.99 327.32,341.73 328.21,340.45 329.08,339.68 329.94,338.67 330.79,337.89 331.62,337.11 332.43,336.48 333.24,335.93 334.03,335 334.81,334.5 335.58,334.1 336.34,333.13 337.08,332.45 337.82,332.54 338.54,331.87 339.26,331.55 339.97,331.06 340.66,330.68 341.35,330.1 342.03,329.96 342.69,329.38 343.35,328.94 344.01,328.75 344.65,328.4 345.29,327.94 345.91,327.81 346.53,327.13 347.15,326.8 347.75,326.43 348.35,326.1 348.94,325.87 349.53,325.39 350.11,325.26 350.68,324.91 351.24,324.7 351.8,324.17 352.36,323.92 352.91,323.76 353.45,323.12 353.98,323.03 354.52,323.11 355.04,322.58 355.56,322.35 356.08,322.14 356.59,321.97 357.09,321.59 357.59,321.51 358.09,321.21 358.58,321.16 359.06,320.66 359.54,320.28 360.02,320.3 360.49,319.93 360.96,319.53 361.42,319.2 361.88,319.06 362.34,318.69 362.79,318.45 363.24,318.02 363.68,318.02 364.12,317.43 364.56,317.25 364.99,316.81 365.42,316.57 365.85,316.25 366.27,315.82 366.8,316" fill="none" stroke="#9400d3" stroke-width="2.0" stroke-linejoin="round" stroke-linecap="butt"/>
<rect x="83.05" y="313.0" width="319.65" height="266.3" fill="none" stroke="#000" stroke-width="1.3"/>
<path d="M103.91 579.3v-4.0M103.91 313.0v4.0M118.7 579.3v-4.0M118.7 313.0v4.0M130.18 579.3v-4.0M130.18 313.0v4.0M139.56 579.3v-4.0M139.56 313.0v4.0M147.49 579.3v-4.0M147.49 313.0v4.0M154.35 579.3v-4.0M154.35 313.0v4.0M160.41 579.3v-4.0M160.41 313.0v4.0M165.83 579.3v-7.5M165.83 313.0v7.5M201.48 579.3v-4.0M201.48 313.0v4.0M222.34 579.3v-4.0M222.34 313.0v4.0M237.14 579.3v-4.0M237.14 313.0v4.0M248.61 579.3v-4.0M248.61 313.0v4.0M257.99 579.3v-4.0M257.99 313.0v4.0M265.92 579.3v-4.0M265.92 313.0v4.0M272.79 579.3v-4.0M272.79 313.0v4.0M278.85 579.3v-4.0M278.85 313.0v4.0M284.27 579.3v-7.5M284.27 313.0v7.5M319.92 579.3v-4.0M319.92 313.0v4.0M340.77 579.3v-4.0M340.77 313.0v4.0M355.57 579.3v-4.0M355.57 313.0v4.0M367.05 579.3v-4.0M367.05 313.0v4.0M376.43 579.3v-4.0M376.43 313.0v4.0M384.35 579.3v-4.0M384.35 313.0v4.0M391.22 579.3v-4.0M391.22 313.0v4.0M397.28 579.3v-4.0M397.28 313.0v4.0" stroke="#000" stroke-width="1.3" fill="none"/>
<path d="M83.05 579.3h7.5M402.7 579.3h-7.5M83.05 552.58h4.0M402.7 552.58h-4.0M83.05 536.95h4.0M402.7 536.95h-4.0M83.05 525.86h4.0M402.7 525.86h-4.0M83.05 517.25h4.0M402.7 517.25h-4.0M83.05 510.23h4.0M402.7 510.23h-4.0M83.05 504.28h4.0M402.7 504.28h-4.0M83.05 499.14h4.0M402.7 499.14h-4.0M83.05 494.6h4.0M402.7 494.6h-4.0M83.05 490.53h7.5M402.7 490.53h-7.5M83.05 463.81h4.0M402.7 463.81h-4.0M83.05 448.18h4.0M402.7 448.18h-4.0M83.05 437.09h4.0M402.7 437.09h-4.0M83.05 428.49h4.0M402.7 428.49h-4.0M83.05 421.46h4.0M402.7 421.46h-4.0M83.05 415.52h4.0M402.7 415.52h-4.0M83.05 410.37h4.0M402.7 410.37h-4.0M83.05 405.83h4.0M402.7 405.83h-4.0M83.05 401.77h7.5M402.7 401.77h-7.5M83.05 375.05h4.0M402.7 375.05h-4.0M83.05 359.41h4.0M402.7 359.41h-4.0M83.05 348.32h4.0M402.7 348.32h-4.0M83.05 339.72h4.0M402.7 339.72h-4.0M83.05 332.69h4.0M402.7 332.69h-4.0M83.05 326.75h4.0M402.7 326.75h-4.0M83.05 321.6h4.0M402.7 321.6h-4.0M83.05 317.06h4.0M402.7 317.06h-4.0M83.05 313h7.5M402.7 313h-7.5" stroke="#000" stroke-width="1.3" fill="none"/>
<path d="M443.1 220.47H762.65" stroke="#d8d8d8" stroke-width="1.15"/>
<path d="M700.5 140.2V152.2M697.1 140.2h6.8M697.1 152.2h6.8" stroke="#0000ff" stroke-width="1.15" fill="none"/>
<path d="M731.4 131.2V163.2M728 131.2h6.8M728 163.2h6.8" stroke="#0000ff" stroke-width="1.15" fill="none"/>
<path d="M454.5 213.4L496.8 198.8L531.9 191.1L566.4 182.1L600.5 170.3L634.6 159.8L668.2 151.6L700.5 146.7L731.4 147.7" stroke="#0000ff" stroke-width="1.35" fill="none"/>
<circle cx="454.5" cy="213.4" r="4.3" fill="#0000ff"/>
<circle cx="496.8" cy="198.8" r="4.3" fill="#0000ff"/>
<circle cx="531.9" cy="191.1" r="4.3" fill="#0000ff"/>
<circle cx="566.4" cy="182.1" r="4.3" fill="#0000ff"/>
<circle cx="600.5" cy="170.3" r="4.3" fill="#0000ff"/>
<circle cx="634.6" cy="159.8" r="4.3" fill="#0000ff"/>
<circle cx="668.2" cy="151.6" r="4.3" fill="#0000ff"/>
<circle cx="700.5" cy="146.7" r="4.3" fill="#0000ff"/>
<circle cx="731.4" cy="147.7" r="4.3" fill="#0000ff"/>
<path d="M700.5 210.3V220.7M697.1 210.3h6.8M697.1 220.7h6.8" stroke="#4cb92f" stroke-width="1.15" fill="none"/>
<path d="M731.4 202.8V226.1M728 202.8h6.8M728 226.1h6.8" stroke="#4cb92f" stroke-width="1.15" fill="none"/>
<path d="M454.5 215.1L496.8 215.5L531.9 215.5L566.4 215.5L600.5 215.9L634.6 215.5L668.2 216L700.5 215.3L731.4 214.3" stroke="#4cb92f" stroke-width="1.15" fill="none"/>
<rect x="451" y="211.6" width="7" height="7" fill="#4cb92f"/>
<rect x="493.3" y="212" width="7" height="7" fill="#4cb92f"/>
<rect x="528.4" y="212" width="7" height="7" fill="#4cb92f"/>
<rect x="562.9" y="212" width="7" height="7" fill="#4cb92f"/>
<rect x="597" y="212.4" width="7" height="7" fill="#4cb92f"/>
<rect x="631.1" y="212" width="7" height="7" fill="#4cb92f"/>
<rect x="664.7" y="212.5" width="7" height="7" fill="#4cb92f"/>
<rect x="697" y="211.8" width="7" height="7" fill="#4cb92f"/>
<rect x="727.9" y="210.8" width="7" height="7" fill="#4cb92f"/>
<path d="M478.4 83.45L501.9 83.45" stroke="#0000ff" stroke-width="1.35" fill="none"/>
<circle cx="478.4" cy="83.45" r="4.3" fill="#0000ff"/>
<circle cx="501.9" cy="83.45" r="4.3" fill="#0000ff"/>
<path d="M478.4 107.75L501.9 107.75" stroke="#4cb92f" stroke-width="1.15" fill="none"/>
<rect x="474.9" y="104.25" width="7" height="7" fill="#4cb92f"/>
<rect x="498.4" y="104.25" width="7" height="7" fill="#4cb92f"/>
<text x="513.4" y="89.85" font-size="20" text-anchor="start">real</text>
<text x="513.4" y="114.15" font-size="20" text-anchor="start">shuffled</text>
<rect x="443.1" y="13.15" width="319.55" height="266.3" fill="none" stroke="#000" stroke-width="1.3"/>
<path d="M467.15 279.45v-4.0M467.15 13.15v4.0M481.22 279.45v-4.0M481.22 13.15v4.0M491.2 279.45v-4.0M491.2 13.15v4.0M498.94 279.45v-4.0M498.94 13.15v4.0M505.26 279.45v-4.0M505.26 13.15v4.0M510.61 279.45v-4.0M510.61 13.15v4.0M515.25 279.45v-4.0M515.25 13.15v4.0M519.33 279.45v-4.0M519.33 13.15v4.0M522.99 279.45v-7.5M522.99 13.15v7.5M547.04 279.45v-4.0M547.04 13.15v4.0M561.1 279.45v-4.0M561.1 13.15v4.0M571.08 279.45v-4.0M571.08 13.15v4.0M578.83 279.45v-4.0M578.83 13.15v4.0M585.15 279.45v-4.0M585.15 13.15v4.0M590.5 279.45v-4.0M590.5 13.15v4.0M595.13 279.45v-4.0M595.13 13.15v4.0M599.22 279.45v-4.0M599.22 13.15v4.0M602.88 279.45v-7.5M602.88 13.15v7.5M626.92 279.45v-4.0M626.92 13.15v4.0M640.99 279.45v-4.0M640.99 13.15v4.0M650.97 279.45v-4.0M650.97 13.15v4.0M658.71 279.45v-4.0M658.71 13.15v4.0M665.04 279.45v-4.0M665.04 13.15v4.0M670.39 279.45v-4.0M670.39 13.15v4.0M675.02 279.45v-4.0M675.02 13.15v4.0M679.11 279.45v-4.0M679.11 13.15v4.0M682.76 279.45v-7.5M682.76 13.15v7.5M706.81 279.45v-4.0M706.81 13.15v4.0M720.88 279.45v-4.0M720.88 13.15v4.0M730.86 279.45v-4.0M730.86 13.15v4.0M738.6 279.45v-4.0M738.6 13.15v4.0M744.93 279.45v-4.0M744.93 13.15v4.0M750.28 279.45v-4.0M750.28 13.15v4.0M754.91 279.45v-4.0M754.91 13.15v4.0M758.99 279.45v-4.0M758.99 13.15v4.0" stroke="#000" stroke-width="1.3" fill="none"/>
<path d="M443.1 279.45h4.0M762.65 279.45h-4.0M443.1 249.86h7.5M762.65 249.86h-7.5M443.1 190.68h7.5M762.65 190.68h-7.5M443.1 161.09h4.0M762.65 161.09h-4.0M443.1 131.51h7.5M762.65 131.51h-7.5M443.1 101.92h4.0M762.65 101.92h-4.0M443.1 72.33h7.5M762.65 72.33h-7.5M443.1 42.74h4.0M762.65 42.74h-4.0M443.1 13.15h7.5M762.65 13.15h-7.5" stroke="#000" stroke-width="1.3" fill="none"/>
<path d="M443.1 520.32H762.65" stroke="#d8d8d8" stroke-width="1.15"/>
<path d="M565.2 439.5V448.8M561.8 439.5h6.8M561.8 448.8h6.8" stroke="#0000ff" stroke-width="1.15" fill="none"/>
<path d="M597.4 420.5V431M594 420.5h6.8M594 431h6.8" stroke="#0000ff" stroke-width="1.15" fill="none"/>
<path d="M630.4 397.8V414.5M627 397.8h6.8M627 414.5h6.8" stroke="#0000ff" stroke-width="1.15" fill="none"/>
<path d="M663.8 344.4V409.5M660.4 344.4h6.8M660.4 409.5h6.8" stroke="#0000ff" stroke-width="1.15" fill="none"/>
<path d="M698.6 352.8V422.4M695.2 352.8h6.8M695.2 422.4h6.8" stroke="#0000ff" stroke-width="1.15" fill="none"/>
<path d="M658.2 376.9H669.4M658.2 373.6v6.6M669.4 373.6v6.6" stroke="#0000ff" stroke-width="1.15" fill="none"/>
<path d="M687.8 387.6H706.6M687.8 384.3v6.6M706.6 384.3v6.6" stroke="#0000ff" stroke-width="1.15" fill="none"/>
<path d="M453.3 518.4L495.1 494.6L530.9 467.6L565.2 444.3L597.4 425.8L630.4 406.1L663.8 376.9L698.6 387.6" stroke="#0000ff" stroke-width="1.35" fill="none"/>
<circle cx="453.3" cy="518.4" r="4.3" fill="#0000ff"/>
<circle cx="495.1" cy="494.6" r="4.3" fill="#0000ff"/>
<circle cx="530.9" cy="467.6" r="4.3" fill="#0000ff"/>
<circle cx="565.2" cy="444.3" r="4.3" fill="#0000ff"/>
<circle cx="597.4" cy="425.8" r="4.3" fill="#0000ff"/>
<circle cx="630.4" cy="406.1" r="4.3" fill="#0000ff"/>
<circle cx="663.8" cy="376.9" r="4.3" fill="#0000ff"/>
<circle cx="698.6" cy="387.6" r="4.3" fill="#0000ff"/>
<path d="M663.8 507.6V534.5M660.4 507.6h6.8M660.4 534.5h6.8" stroke="#4cb92f" stroke-width="1.15" fill="none"/>
<path d="M698.6 471V550.7M695.2 471h6.8M695.2 550.7h6.8" stroke="#4cb92f" stroke-width="1.15" fill="none"/>
<path d="M658.2 521.1H669.4M658.2 517.8v6.6M669.4 517.8v6.6" stroke="#4cb92f" stroke-width="1.15" fill="none"/>
<path d="M687.8 510.7H706.6M687.8 507.4v6.6M706.6 507.4v6.6" stroke="#4cb92f" stroke-width="1.15" fill="none"/>
<path d="M453.3 519.6L495.1 519.6L530.9 520.1L565.2 520.1L597.4 519.6L630.4 518.3L663.8 521.1L698.6 510.7" stroke="#4cb92f" stroke-width="1.15" fill="none"/>
<rect x="449.8" y="516.1" width="7" height="7" fill="#4cb92f"/>
<rect x="491.6" y="516.1" width="7" height="7" fill="#4cb92f"/>
<rect x="527.4" y="516.6" width="7" height="7" fill="#4cb92f"/>
<rect x="561.7" y="516.6" width="7" height="7" fill="#4cb92f"/>
<rect x="593.9" y="516.1" width="7" height="7" fill="#4cb92f"/>
<rect x="626.9" y="514.8" width="7" height="7" fill="#4cb92f"/>
<rect x="660.3" y="517.6" width="7" height="7" fill="#4cb92f"/>
<rect x="695.1" y="507.2" width="7" height="7" fill="#4cb92f"/>
<path d="M478.4 383.3L501.9 383.3" stroke="#0000ff" stroke-width="1.35" fill="none"/>
<circle cx="478.4" cy="383.3" r="4.3" fill="#0000ff"/>
<circle cx="501.9" cy="383.3" r="4.3" fill="#0000ff"/>
<path d="M478.4 407.6L501.9 407.6" stroke="#4cb92f" stroke-width="1.15" fill="none"/>
<rect x="474.9" y="404.1" width="7" height="7" fill="#4cb92f"/>
<rect x="498.4" y="404.1" width="7" height="7" fill="#4cb92f"/>
<text x="513.4" y="389.7" font-size="20" text-anchor="start">real</text>
<text x="513.4" y="414" font-size="20" text-anchor="start">shuffled</text>
<rect x="443.1" y="313.0" width="319.55" height="266.3" fill="none" stroke="#000" stroke-width="1.3"/>
<path d="M467.15 579.3v-4.0M467.15 313.0v4.0M481.22 579.3v-4.0M481.22 313.0v4.0M491.2 579.3v-4.0M491.2 313.0v4.0M498.94 579.3v-4.0M498.94 313.0v4.0M505.26 579.3v-4.0M505.26 313.0v4.0M510.61 579.3v-4.0M510.61 313.0v4.0M515.25 579.3v-4.0M515.25 313.0v4.0M519.33 579.3v-4.0M519.33 313.0v4.0M522.99 579.3v-7.5M522.99 313.0v7.5M547.04 579.3v-4.0M547.04 313.0v4.0M561.1 579.3v-4.0M561.1 313.0v4.0M571.08 579.3v-4.0M571.08 313.0v4.0M578.83 579.3v-4.0M578.83 313.0v4.0M585.15 579.3v-4.0M585.15 313.0v4.0M590.5 579.3v-4.0M590.5 313.0v4.0M595.13 579.3v-4.0M595.13 313.0v4.0M599.22 579.3v-4.0M599.22 313.0v4.0M602.88 579.3v-7.5M602.88 313.0v7.5M626.92 579.3v-4.0M626.92 313.0v4.0M640.99 579.3v-4.0M640.99 313.0v4.0M650.97 579.3v-4.0M650.97 313.0v4.0M658.71 579.3v-4.0M658.71 313.0v4.0M665.04 579.3v-4.0M665.04 313.0v4.0M670.39 579.3v-4.0M670.39 313.0v4.0M675.02 579.3v-4.0M675.02 313.0v4.0M679.11 579.3v-4.0M679.11 313.0v4.0M682.76 579.3v-7.5M682.76 313.0v7.5M706.81 579.3v-4.0M706.81 313.0v4.0M720.88 579.3v-4.0M720.88 313.0v4.0M730.86 579.3v-4.0M730.86 313.0v4.0M738.6 579.3v-4.0M738.6 313.0v4.0M744.93 579.3v-4.0M744.93 313.0v4.0M750.28 579.3v-4.0M750.28 313.0v4.0M754.91 579.3v-4.0M754.91 313.0v4.0M758.99 579.3v-4.0M758.99 313.0v4.0" stroke="#000" stroke-width="1.3" fill="none"/>
<path d="M443.1 579.3h4.0M762.65 579.3h-4.0M443.1 549.71h7.5M762.65 549.71h-7.5M443.1 490.53h7.5M762.65 490.53h-7.5M443.1 460.94h4.0M762.65 460.94h-4.0M443.1 431.36h7.5M762.65 431.36h-7.5M443.1 401.77h4.0M762.65 401.77h-4.0M443.1 372.18h7.5M762.65 372.18h-7.5M443.1 342.59h4.0M762.65 342.59h-4.0M443.1 313h7.5M762.65 313h-7.5" stroke="#000" stroke-width="1.3" fill="none"/>
<text x="36.8" y="20.4" font-size="20">10<tspan font-size="12" dy="-11.3" dx="0.6">1</tspan></text>
<text x="36.8" y="153.4" font-size="20">10<tspan font-size="12" dy="-11.3" dx="0.6">0</tspan></text>
<text x="24.8" y="286.4" font-size="20">10<tspan font-size="12" dy="-11.3" dx="0.6">−1</tspan></text>
<text x="36.8" y="320.4" font-size="20">10<tspan font-size="12" dy="-11.3" dx="0.6">2</tspan></text>
<text x="36.8" y="409.07" font-size="20">10<tspan font-size="12" dy="-11.3" dx="0.6">1</tspan></text>
<text x="36.8" y="497.73" font-size="20">10<tspan font-size="12" dy="-11.3" dx="0.6">0</tspan></text>
<text x="24.8" y="586.4" font-size="20">10<tspan font-size="12" dy="-11.3" dx="0.6">−1</tspan></text>
<text x="197.6" y="302.9" font-size="20">10<tspan font-size="12" dy="-11.3" dx="0.6">1</tspan></text>
<text x="386" y="302.9" font-size="20">10<tspan font-size="12" dy="-11.3" dx="0.6">2</tspan></text>
<text x="426" y="302.9" font-size="20">10<tspan font-size="12" dy="-11.3" dx="0.6">0</tspan></text>
<text x="506" y="302.9" font-size="20">10<tspan font-size="12" dy="-11.3" dx="0.6">1</tspan></text>
<text x="586" y="302.9" font-size="20">10<tspan font-size="12" dy="-11.3" dx="0.6">2</tspan></text>
<text x="666" y="302.9" font-size="20">10<tspan font-size="12" dy="-11.3" dx="0.6">3</tspan></text>
<text x="746" y="302.9" font-size="20">10<tspan font-size="12" dy="-11.3" dx="0.6">4</tspan></text>
<text x="148.9" y="602.9" font-size="20">10<tspan font-size="12" dy="-11.3" dx="0.6">1</tspan></text>
<text x="267.4" y="602.9" font-size="20">10<tspan font-size="12" dy="-11.3" dx="0.6">2</tspan></text>
<text x="386" y="602.9" font-size="20">10<tspan font-size="12" dy="-11.3" dx="0.6">3</tspan></text>
<text x="426" y="602.9" font-size="20">10<tspan font-size="12" dy="-11.3" dx="0.6">0</tspan></text>
<text x="506" y="602.9" font-size="20">10<tspan font-size="12" dy="-11.3" dx="0.6">1</tspan></text>
<text x="586" y="602.9" font-size="20">10<tspan font-size="12" dy="-11.3" dx="0.6">2</tspan></text>
<text x="666" y="602.9" font-size="20">10<tspan font-size="12" dy="-11.3" dx="0.6">3</tspan></text>
<text x="746" y="602.9" font-size="20">10<tspan font-size="12" dy="-11.3" dx="0.6">4</tspan></text>
<text x="775.2" y="20.55" font-size="20" text-anchor="start">1.2</text>
<text x="775.2" y="79.73" font-size="20" text-anchor="start">1</text>
<text x="775.2" y="138.91" font-size="20" text-anchor="start">0.8</text>
<text x="775.2" y="198.08" font-size="20" text-anchor="start">0.6</text>
<text x="775.2" y="257.26" font-size="20" text-anchor="start">0.4</text>
<text x="775.2" y="320.4" font-size="20" text-anchor="start">1.2</text>
<text x="775.2" y="379.58" font-size="20" text-anchor="start">1</text>
<text x="775.2" y="438.76" font-size="20" text-anchor="start">0.8</text>
<text x="775.2" y="497.93" font-size="20" text-anchor="start">0.6</text>
<text x="775.2" y="557.11" font-size="20" text-anchor="start">0.4</text>
<text x="102.65" y="43.35" font-size="20" text-anchor="start" font-weight="bold">a</text>
<text x="126.45" y="43.35" font-size="20" text-anchor="start">OC1</text>
<text x="462.7" y="43.35" font-size="20" text-anchor="start" font-weight="bold">b</text>
<text x="486.5" y="43.35" font-size="20" text-anchor="start">OC1</text>
<text x="102.65" y="343.2" font-size="20" text-anchor="start" font-weight="bold">c</text>
<text x="126.45" y="343.2" font-size="20" text-anchor="start">OC2</text>
<text x="462.7" y="343.2" font-size="20" text-anchor="start" font-weight="bold">d</text>
<text x="486.5" y="343.2" font-size="20" text-anchor="start">OC2</text>
<text x="99.6" y="108.5" font-size="20">~ Δt<tspan font-size="12" dy="-11.4" dx="0.3">0.75</tspan></text>
<text x="207.2" y="262.8" font-size="20">~ Δt<tspan font-size="12" dy="-11.4" dx="0.3">0.5</tspan></text>
<text x="99.6" y="429.4" font-size="20">~ Δt<tspan font-size="12" dy="-11.4" dx="0.3">1.0</tspan></text>
<text x="207.2" y="562.8" font-size="20">~ Δt<tspan font-size="12" dy="-11.4" dx="0.3">0.5</tspan></text>
<text transform="translate(15.2 147.3) rotate(-90)" font-size="20" text-anchor="middle">F(Δt)</text>
<text transform="translate(15.2 447.3) rotate(-90)" font-size="20" text-anchor="middle">F(Δt)</text>
<text transform="translate(826.5 146.7) rotate(-90)" font-size="20" text-anchor="middle">H  (10 &lt;= Δt &lt;= 63)</text>
<text transform="translate(826.5 446.7) rotate(-90)" font-size="20" text-anchor="middle">H  (32 &lt;= Δt &lt;= 200)</text>
<text x="241.7" y="629.6" font-size="20" text-anchor="middle">Δt  [days]</text>
<text x="603.6" y="629.6" font-size="20" text-anchor="middle">total number of messages, M</text>
<text x="358.0" y="735.8" style="font-family:'Liberation Serif',serif" font-size="19" font-weight="bold" textLength="89.2" lengthAdjust="spacingAndGlyphs">FIGURE</text>
<text x="455.1" y="735.8" style="font-family:'Liberation Serif',serif" font-size="19" textLength="13.8" lengthAdjust="spacingAndGlyphs">3:</text>
</svg>
</body></html>
